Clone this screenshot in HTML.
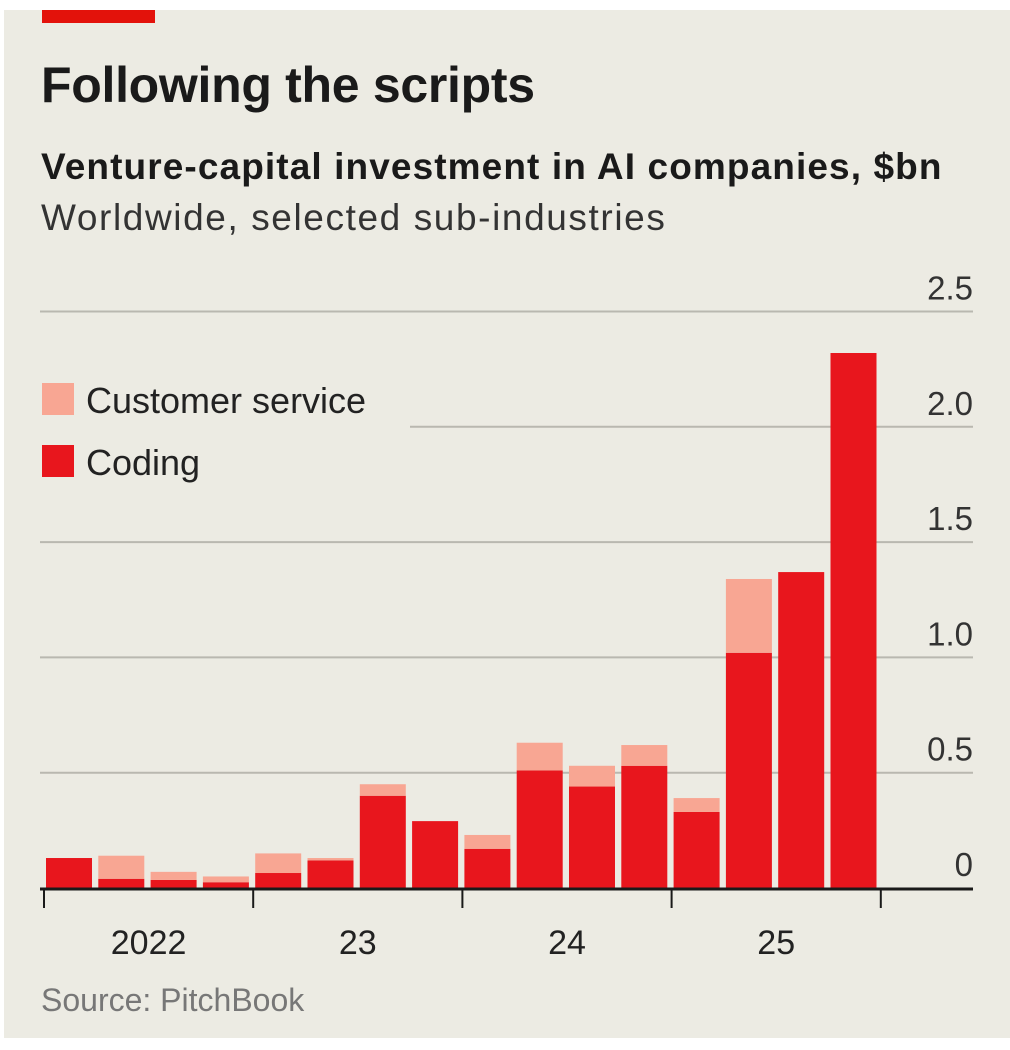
<!DOCTYPE html>
<html><head><meta charset="utf-8"><style>
html,body{margin:0;padding:0;background:#fff;}
#wrap{position:relative;width:1010px;height:1050px;background:#fff;overflow:hidden;font-family:"Liberation Sans Narrow","Liberation Sans",sans-serif;}
#card{position:absolute;left:4px;top:10px;width:1006px;height:1028px;background:#ecebe3;}
.t{position:absolute;white-space:nowrap;color:#1a1a1a;}
</style></head><body>
<div id="wrap">
<div id="card"></div>
<div style="position:absolute;left:42px;top:10px;width:113px;height:13px;background:#e3120b"></div>
<div class="t" style="left:41px;top:56px;font-size:50px;font-weight:bold;letter-spacing:-0.3px">Following the scripts</div>
<div class="t" style="left:41px;top:146px;font-size:37px;font-weight:bold;letter-spacing:1.1px">Venture-capital investment in AI companies, $bn</div>
<div class="t" style="left:41px;top:197px;font-size:37px;color:#333;letter-spacing:1.6px">Worldwide, selected sub-industries</div>
<div class="t" style="left:41px;top:982px;font-size:32px;color:#777">Source: PitchBook</div>
<svg id="chart" width="1010" height="1050" style="position:absolute;left:0;top:0"></svg>
</div>
<script>
const categories=["2022Q1","2022Q2","2022Q3","2022Q4","2023Q1","2023Q2","2023Q3","2023Q4","2024Q1","2024Q2","2024Q3","2024Q4","2025Q1","2025Q2","2025Q3","2025Q4"];
const coding=[0.13,0.04,0.035,0.025,0.065,0.12,0.40,0.29,0.17,0.51,0.44,0.53,0.33,1.02,1.37,2.32];
const customerService=[0,0.10,0.035,0.025,0.085,0.01,0.05,0,0.06,0.12,0.09,0.09,0.06,0.32,0,0];
const yTicks=[0,0.5,1.0,1.5,2.0,2.5];
const yTickLabels=["0","0.5","1.0","1.5","2.0","2.5"];
const yearLabels=["2022","23","24","25"];

const NS="http://www.w3.org/2000/svg";
const svg=document.getElementById('chart');
const x0=44,slot=52.3,barW=46,y0=888,pxPerUnit=230.6,right=973;
const yS=v=>y0-v*pxPerUnit;
const xS=i=>x0+i*slot+2;
function mk(t,a){const e=document.createElementNS(NS,t);for(const k in a)e.setAttribute(k,a[k]);svg.appendChild(e);return e;}
yTicks.forEach((v,i)=>{
  if(v>0){
    const l=mk('line',{x1:v===2.0?410:40,x2:right,y1:yS(v),y2:yS(v),stroke:'#b9b8b0','stroke-width':2});
    
    
  }
  const t=mk('text',{x:right,y:yS(v)-12,'text-anchor':'end','font-size':33,fill:'#333','font-family':'"Liberation Sans Narrow","Liberation Sans",sans-serif'});
  t.textContent=yTickLabels[i];
  
  
});
categories.forEach((c,i)=>{
  const r=mk('rect',{x:xS(i),y:yS(coding[i]),width:barW,height:coding[i]*pxPerUnit,fill:'#e8161d'});
  
  
  if(customerService[i]>0){
    const r2=mk('rect',{x:xS(i),y:yS(coding[i]+customerService[i]),width:barW,height:customerService[i]*pxPerUnit,fill:'#f8a693'});
    
    
  }
});
const base=mk('line',{x1:40,x2:right,y1:y0+1,y2:y0+1,stroke:'#1a1a1a','stroke-width':3});


for(let k=0;k<=4;k++){
  const tx=x0+k*4*slot;
  const tk=mk('line',{x1:tx,x2:tx,y1:y0,y2:y0+20,stroke:'#1a1a1a','stroke-width':2});
  
  
}
yearLabels.forEach((y,k)=>{
  const t=mk('text',{x:x0+(k*4+2)*slot,y:954,'text-anchor':'middle','font-size':34,fill:'#222','font-family':'"Liberation Sans Narrow","Liberation Sans",sans-serif'});
  t.textContent=y;
  
  
});
const legend=[["Customer service","#f8a693",400],["Coding","#e8161d",462]];
legend.forEach(([n,c,y])=>{
  const r=mk('rect',{x:42,y:y-17,width:32,height:32,fill:c});
  
  
  const t=mk('text',{x:86,y:y+13,'font-size':36,fill:'#222','font-family':'"Liberation Sans Narrow","Liberation Sans",sans-serif'});
  t.textContent=n;
  
  
});
</script>
</body></html>
